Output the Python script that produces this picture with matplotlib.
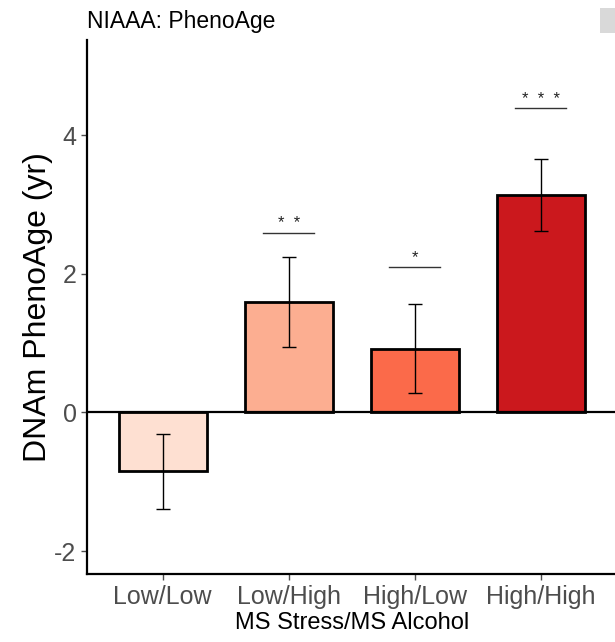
import matplotlib
matplotlib.use("Agg")
import matplotlib.pyplot as plt
from matplotlib.patches import Rectangle

plt.rcParams['font.family'] = ['Liberation Sans', 'DejaVu Sans']

groups = ["Low/Low", "Low/High", "High/Low", "High/High"]
means = [-0.85, 1.59, 0.92, 3.13]
errors = [0.54, 0.65, 0.64, 0.52]
colors = ["#FEE0D2", "#FCAE91", "#FB6A4A", "#CB181D"]
sig_labels = ["", "*  *", "*", "*  *  *"]
sig_heights = [None, 2.59, 2.10, 4.39]
y_ticks = [-2, 0, 2, 4]

fig = plt.figure(figsize=(6.15, 6.42), dpi=100)
ax = fig.add_axes([0.1415, 0.1059, 0.8605, 0.8318])

x = list(range(1, len(groups) + 1))
ax.bar(x, means, width=0.7, color=colors, edgecolor="black", linewidth=2.0, zorder=2)
ax.errorbar(x, means, yerr=errors, fmt="none", ecolor="black", elinewidth=1.0,
            capsize=5, capthick=1.0, zorder=3)
ax.axhline(0, color="black", linewidth=1.6, zorder=4)

for xi, lab, h in zip(x, sig_labels, sig_heights):
    if h is None:
        continue
    ax.plot([xi - 0.2, xi + 0.2], [h, h], color="#333333", linewidth=1.0, zorder=3)
    ax.text(xi, h + 0.02, lab, ha="center", va="bottom", fontsize=12, color="#222222")

ax.set_xlim(0.4, 4.6)
ax.set_ylim(-2.33, 5.37)
ax.set_xticks(x)
ax.set_xticklabels(groups)
ax.set_yticks(y_ticks)
ax.set_yticklabels([str(t) for t in y_ticks])
ax.tick_params(axis="both", labelsize=18, colors="#4D4D4D", length=4, width=1.0)
ax.tick_params(axis="x", pad=4)

for side in ["top", "right"]:
    ax.spines[side].set_visible(False)
for side in ["left", "bottom"]:
    ax.spines[side].set_linewidth(1.6)
    ax.spines[side].set_color("black")

ax.set_ylabel("DNAm PhenoAge (yr)", fontsize=23, color="black", labelpad=1)
ax.set_xlabel("MS Stress/MS Alcohol", fontsize=17, color="black", labelpad=2)

fig.text(0.1415, 0.966, "NIAAA: PhenoAge", fontsize=16.5, ha="left", va="center", color="black")
fig.patches.append(Rectangle((600 / 615, (642 - 33) / 642), 20 / 615, 25 / 642,
                             transform=fig.transFigure, facecolor="#D9D9D9",
                             edgecolor="none"))

fig.savefig("out.png", dpi=100)
